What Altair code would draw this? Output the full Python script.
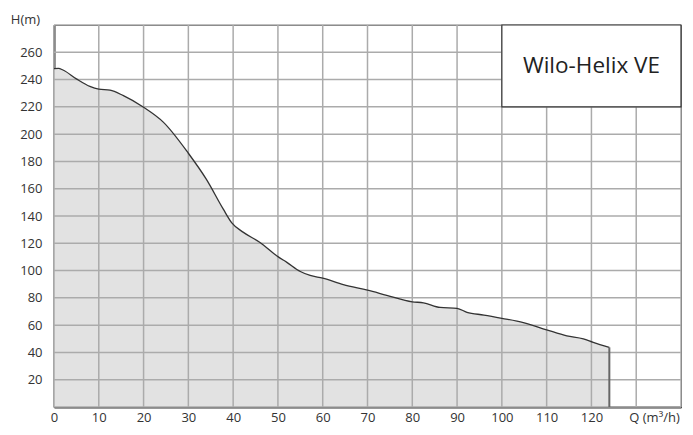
import altair as alt
import pandas as pd

# Pump curve: flow Q (m³/h) vs head H (m)
q_vals = [0, 1, 2, 5, 8, 10, 12.5, 15.5, 20, 24.4, 30, 34, 37.8, 39.7, 42.3, 46,
          50, 52, 55, 57.2, 60, 64.6, 70, 74.3, 80, 82.5, 86.2, 90, 92.2, 96,
          100, 104.8, 110, 114.5, 118.2, 120.4, 124]
h_vals = [248, 248.2, 247, 240.5, 235, 233, 232.3, 228.2, 219.7, 208.8, 186, 167,
          145, 135, 128, 120.6, 110.2, 106, 99.3, 96.4, 94.5, 89.7, 85.6, 81.9,
          77.1, 76.4, 73, 72.3, 69.4, 67.4, 65, 61.9, 56.6, 52.2, 50, 47.4, 43.7]

x_ticks = [0, 10, 20, 30, 40, 50, 60, 70, 80, 90, 100, 110, 120]
x_grid = [0, 10, 20, 30, 40, 50, 60, 70, 80, 90, 100, 110, 120, 130, 140]
y_ticks = [20, 40, 60, 80, 100, 120, 140, 160, 180, 200, 220, 240, 260]
y_grid = [0, 20, 40, 60, 80, 100, 120, 140, 160, 180, 200, 220, 240, 260, 280]

label_name = ["Wilo-Helix VE"]
label_box_x = [100, 140]
label_box_y = [220, 280]

FONT = "Open Sans"
TXT = "#333333"

curve = pd.DataFrame({"Q": q_vals, "H": h_vals})
end_df = pd.DataFrame({"Q": [q_vals[-1]], "H0": [0], "H1": [h_vals[-1]]})
box_df = pd.DataFrame({"x1": [label_box_x[0]], "x2": [label_box_x[1]],
                       "y1": [label_box_y[0]], "y2": [label_box_y[1]],
                       "name": label_name,
                       "xm": [(label_box_x[0] + label_box_x[1]) / 2],
                       "ym": [(label_box_y[0] + label_box_y[1]) / 2]})

xscale = alt.Scale(domain=[0, 140], nice=False, zero=False)
yscale = alt.Scale(domain=[0, 280], nice=False, zero=False)

xaxis = alt.Axis(values=x_ticks, tickSize=0, labelPadding=4, labelFontSize=13,
                 labelFont=FONT, labelColor=TXT, grid=False,
                 labelOverlap=False, labelFlush=False,
                 domainColor="#333333", domainWidth=2,
                 title="Q (m³/h)", titleFont=FONT, titleFontSize=13,
                 titleFontWeight="normal", titleColor=TXT,
                 titleX=600, titleY=4, titleBaseline="top", titleAlign="center")
yaxis = alt.Axis(values=y_ticks, tickSize=0, labelPadding=12, labelFontSize=13,
                 labelFont=FONT, labelColor=TXT, grid=False,
                 labelOverlap=False, labelFlush=False,
                 domainColor="#333333", domainWidth=2,
                 title="H(m)", titleFont=FONT, titleFontSize=13,
                 titleFontWeight="normal", titleColor=TXT, titleAngle=0,
                 titleX=-29, titleY=-6, titleAlign="center", titleBaseline="middle")


def X(field):
    return alt.X(field, scale=xscale, axis=xaxis)


def Y(field):
    return alt.Y(field, scale=yscale, axis=yaxis)


area = alt.Chart(curve).mark_area(
    interpolate="monotone", fill="#e2e2e2", fillOpacity=1
).encode(x=X("Q:Q"), y=Y("H:Q"))

gx = alt.Chart(pd.DataFrame({"g": x_grid})).mark_rule(color="#ababab", strokeWidth=1.5).encode(
    x=X("g:Q"))
gy = alt.Chart(pd.DataFrame({"g": y_grid})).mark_rule(color="#ababab", strokeWidth=1.5).encode(
    y=Y("g:Q"))

line = alt.Chart(curve).mark_line(
    interpolate="monotone", color="#333333", strokeWidth=1.3
).encode(x=X("Q:Q"), y=Y("H:Q"))

end_rule = alt.Chart(end_df).mark_rule(color="#666666", strokeWidth=2).encode(
    x=X("Q:Q"), y=Y("H0:Q"), y2="H1:Q")

box = alt.Chart(box_df).mark_rect(fill="white", stroke="#333333", strokeWidth=1.2).encode(
    x=X("x1:Q"), x2="x2:Q", y=Y("y1:Q"), y2="y2:Q")

box_text = alt.Chart(box_df).mark_text(font=FONT, fontSize=22.5, color="#222222",
                                       align="center", baseline="middle").encode(
    x=X("xm:Q"), y=Y("ym:Q"), text="name:N")

chart = alt.layer(area, gx, gy, line, end_rule, box, box_text).properties(
    width=627, height=382,
    autosize=alt.AutoSizeParams(type="none"),
    padding={"left": 46, "top": 17, "right": 4, "bottom": 20},
    background="white",
).configure_view(stroke="#333333", strokeWidth=1)

chart.save("out.html", embed_options={"renderer": "svg", "actions": False})
